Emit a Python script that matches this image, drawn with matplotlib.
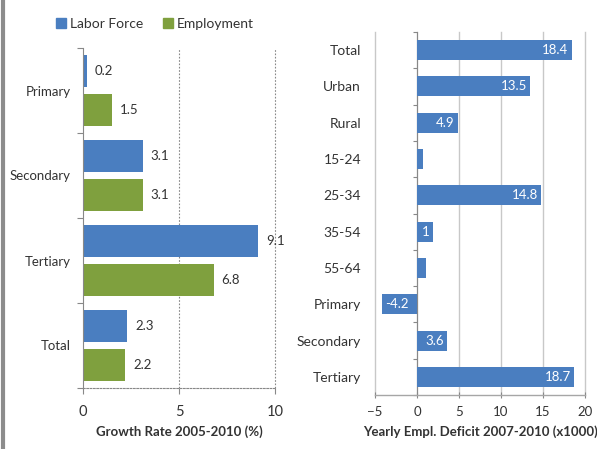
import matplotlib
matplotlib.use("Agg")
import matplotlib.pyplot as plt
import numpy as np
from matplotlib.lines import Line2D
from matplotlib.patches import Patch

plt.rcParams['font.family'] = ['Lato', 'DejaVu Sans']

# Left chart data
sectors = ["Primary", "Secondary", "Tertiary", "Total"]
labor_force = [0.2, 3.1, 9.1, 2.3]
employment = [1.5, 3.1, 6.8, 2.2]
left_xticks = [0, 5, 10]

# Right chart data
groups = ["Total", "Urban", "Rural", "15-24", "25-34", "35-54", "55-64",
          "Primary", "Secondary", "Tertiary"]
deficit = [18.4, 13.5, 4.9, 0.7, 14.8, 1.9, 1.1, -4.2, 3.6, 18.7]
deficit_labels = ["18.4", "13.5", "4.9", "", "14.8", "1", "", "-4.2", "3.6", "18.7"]
right_xticks = [-5, 0, 5, 10, 15, 20]

BLUE = "#4a7ec0"
GREEN = "#7fa03e"
TXT = "#333333"
GRID = "#a6a6a6"

fig = plt.figure(figsize=(5.97, 4.49), dpi=100)

# ---------------- Left chart ----------------
axL = fig.add_axes([83/597, 1-388/449, (275-83)/597, (388-48)/449])
n = len(sectors)
y = np.arange(n)
h = 0.376
off = 0.224
axL.barh(y - off, labor_force, height=h, color=BLUE)
axL.barh(y + off, employment, height=h, color=GREEN)
for yi, v in zip(y - off, labor_force):
    axL.text(v + 0.42, yi, f"{v}", va="center", ha="left", fontsize=9.5, color=TXT)
for yi, v in zip(y + off, employment):
    axL.text(v + 0.42, yi, f"{v}", va="center", ha="left", fontsize=9.5, color=TXT)
axL.set_ylim(n - 0.5, -0.5)
axL.set_xlim(0, 10)
axL.set_xticks(left_xticks)
axL.set_yticks(y)
axL.set_yticklabels(sectors, fontsize=9.5, color=TXT)
axL.tick_params(axis='y', length=0, pad=9)
axL.set_yticks(np.arange(n + 1) - 0.5, minor=True)
axL.tick_params(axis='y', which='minor', length=4, color="#888888", width=0.8)
axL.tick_params(axis='x', length=4, color="#888888", labelsize=10.5, labelcolor=TXT, pad=8)
for s in ['top', 'right']:
    axL.spines[s].set_visible(False)
axL.spines['left'].set_color("#888888")
axL.spines['left'].set_linewidth(0.8)
axL.spines['bottom'].set_color("#888888")
axL.spines['bottom'].set_linestyle((0, (1.5, 1.5)))
axL.spines['bottom'].set_linewidth(0.8)
for xv in left_xticks[1:]:
    axL.axvline(xv, color="#888888", linestyle=(0, (1.5, 1.5)), linewidth=0.8, zorder=0,
                clip_on=False)
axL.set_xlabel("Growth Rate 2005-2010 (%)", fontsize=9.5, fontweight="bold", color=TXT, labelpad=5)
leg = fig.legend(handles=[Patch(color=BLUE, label="Labor Force"),
                          Patch(color=GREEN, label="Employment")],
                 loc="center", bbox_to_anchor=(155/597, 1-24/449), ncol=2, frameon=False,
                 fontsize=10, handlelength=0.7, handleheight=0.7, handletextpad=0.3,
                 columnspacing=1.4)
for t in leg.get_texts():
    t.set_color(TXT)

# ---------------- Right chart ----------------
axR = fig.add_axes([375/597, 1-395/449, (585-375)/597, (395-32)/449])
m = len(groups)
yr = np.arange(m)
axR.barh(yr, deficit, height=0.55, color=BLUE, zorder=3)
for yi, v, lab in zip(yr, deficit, deficit_labels):
    if lab:
        if v >= 0:
            axR.text(v - 0.4, yi, lab, va="center", ha="right", fontsize=9.5, color="white", zorder=4)
        else:
            axR.text(v + 0.4, yi, lab, va="center", ha="left", fontsize=9.5, color="white", zorder=4)
axR.set_ylim(m - 0.5, -0.5)
axR.set_xlim(-5, 20)
axR.set_xticks(right_xticks)
axR.set_yticks(yr)
axR.set_yticklabels(groups, fontsize=10, color=TXT)
axR.tick_params(axis='y', length=0, pad=10)
axR.tick_params(axis='x', length=4, color="#888888", labelsize=9.5, labelcolor=TXT, pad=6, direction='inout')
for s in ['top', 'right', 'left']:
    axR.spines[s].set_visible(False)
axR.spines['bottom'].set_color(GRID)
axR.spines['bottom'].set_linewidth(1.0)
for xv in right_xticks:
    if xv != 0:
        axR.axvline(xv, color="#c8c8c8", linewidth=1.0, zorder=0, clip_on=False)
sec = axR.secondary_yaxis(0.2)
sec.set_yticks(np.arange(m + 1) - 0.5)
sec.set_yticklabels([])
sec.tick_params(axis='y', length=3, color="#888888", width=0.8)
sec.spines['left'].set_color("#888888")
sec.spines['left'].set_linewidth(0.9)
axR.set_xlabel("Yearly Empl. Deficit 2007-2010 (x1000)", fontsize=9.5, fontweight="bold", color=TXT, labelpad=5)

# Left border line of the image
fig.add_artist(Line2D([3/597, 3/597], [0, 1], transform=fig.transFigure, color="#8c8c8c", linewidth=3))

fig.savefig("out.png", dpi=100)
